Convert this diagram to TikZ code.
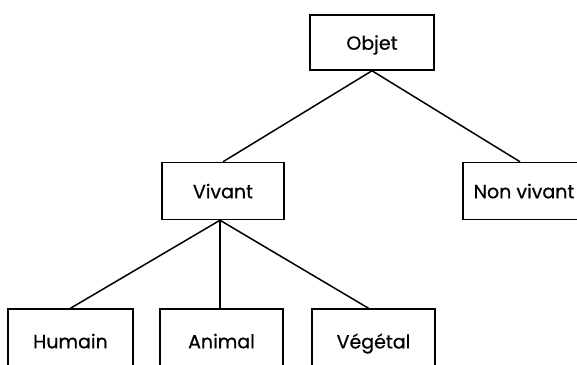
\documentclass[tikz,border=0pt]{standalone}
\usepackage{fontspec}
\setmainfont{Poppins}[FakeBold=0.6]
\begin{document}
\begin{tikzpicture}[x=1pt,y=-1pt,
  box/.style={draw,line width=1.5pt,rectangle,inner sep=0pt,text depth=0pt,font=\fontsize{19}{22}\selectfont},
  link/.style={line width=1.5pt}]
\useasboundingbox (0,0) rectangle (577,364);
\clip (0,0) rectangle (577,364);
\node[box,minimum width=124pt,minimum height=55pt] (objet) at (372,42.5) {Objet};
\node[box,minimum width=122pt,minimum height=57pt] (vivant) at (223,191) {Vivant};
\node[box,minimum width=122pt,minimum height=57pt] (nonvivant) at (524,191) {Non vivant};
\node[box,minimum width=125pt,minimum height=64pt] (humain) at (70.5,341) {Humain};
\node[box,minimum width=123pt,minimum height=64pt] (animal) at (221.5,341) {Animal};
\node[box,minimum width=123pt,minimum height=64pt] (vegetal) at (373.5,341) {Végétal};
\coordinate (vs) at ([xshift=-3pt]vivant.south);
\draw[link] (objet.south) -- (vivant.north);
\draw[link] (objet.south) -- ([xshift=-4pt]nonvivant.north);
\draw[link] (vs) -- (humain.north);
\draw[link] (vs) -- (vs |- animal.north);
\draw[link] (vs) -- ([xshift=-5pt]vegetal.north);
\end{tikzpicture}
\end{document}
